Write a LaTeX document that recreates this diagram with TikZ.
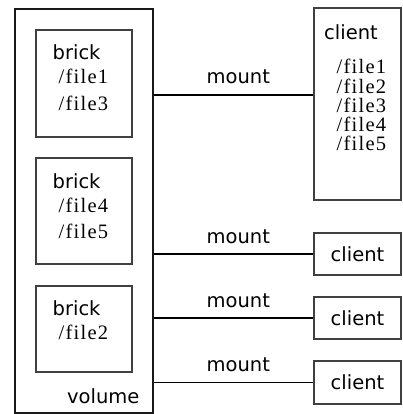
\documentclass[tikz,border=0pt]{standalone}
\usepackage{fontspec}
\setsansfont{DejaVu Sans}
\newfontfamily\fileserif{Liberation Serif}[Ligatures=NoCommon,LetterSpace=6]
\begin{document}
\begin{tikzpicture}[x=1pt,y=-1pt,
  box/.style={draw=black!75, line width=1.1pt, inner sep=0pt},
  wire/.style={draw=black, line width=1.1pt},
  sanst/.style={font=\sffamily\fontsize{19.5}{19.5}\selectfont, inner sep=0pt, anchor=base west},
  filet/.style={font=\fileserif\fontsize{20.5}{20.5}\selectfont, inner sep=0pt, anchor=base west},
  clientbox/.style={box, minimum width=87pt, font=\sffamily\fontsize{19.5}{19.5}\selectfont},
]
\useasboundingbox (0,0) rectangle (402,414);
% volume
\node[box, draw=black!90, minimum width=138pt, minimum height=404pt] (volume) at (84,211) {};
\node[sanst] (vlabel) at (67,403.3) {volume};
% bricks
\node[box, minimum width=96pt, minimum height=107pt] (b1) at (84,83.5) {};
\node[box, minimum width=96pt, minimum height=106pt] (b2) at (84,211) {};
\node[box, minimum width=96pt, minimum height=86pt] (b3) at (84,329) {};
\node[sanst] (b1t) at (52.5,60) {brick};
\node[filet] (b1f1) at (58.5,84) {/file1};
\node[filet] (b1f3) at (58.5,110.3) {/file3};
\node[sanst] (b2t) at (52.5,188.3) {brick};
\node[filet] (b2f4) at (58.5,212.7) {/file4};
\node[filet] (b2f5) at (58.5,238.3) {/file5};
\node[sanst] (b3t) at (52.5,315) {brick};
\node[filet] (b3f2) at (58.5,339.3) {/file2};
% clients
\node[box, minimum width=87pt, minimum height=192pt] (c1) at (357.5,104) {};
\node[sanst] (c1t) at (324,39.3) {client};
\node[filet] (c1f1) at (336.5,74) {/file1};
\node[filet] (c1f2) at (336.5,93.3) {/file2};
\node[filet] (c1f3) at (336.5,112.7) {/file3};
\node[filet] (c1f4) at (336.5,131.7) {/file4};
\node[filet] (c1f5) at (336.5,150.7) {/file5};
\node[clientbox, minimum height=42pt] (c2) at (357.5,254) {client};
\node[clientbox, minimum height=42pt] (c3) at (357.5,318) {client};
\node[clientbox, minimum height=43pt] (c4) at (357.5,382.5) {client};
% connectors
\coordinate (m1) at (0,95);
\draw[wire] (volume.east |- m1) -- (c1.west |- m1);
\draw[wire] (volume.east |- c2.west) -- (c2.west);
\draw[wire] (volume.east |- c3.west) -- (c3.west);
\draw[wire] (volume.east |- c4.west) -- (c4.west);
\node[sanst] (l1) at (206.5,83.3) {mount};
\node[sanst] (l2) at (206.5,243.3) {mount};
\node[sanst] (l3) at (206.5,307.3) {mount};
\node[sanst] (l4) at (206.5,371.7) {mount};
\end{tikzpicture}
\end{document}
